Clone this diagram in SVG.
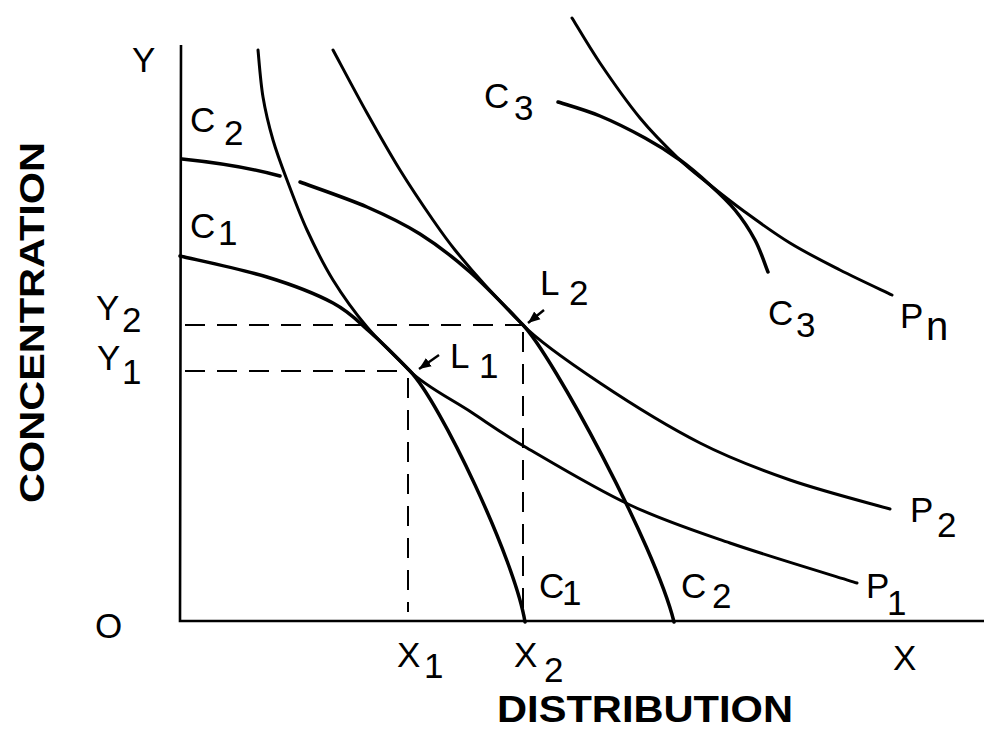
<svg xmlns="http://www.w3.org/2000/svg" width="984" height="730" viewBox="0 0 984 730">
<style>
.lbl{font-family:"Liberation Sans",Arial,Helvetica,sans-serif;font-size:35px;fill:#000}
.ttl{font-family:"Liberation Sans",Arial,Helvetica,sans-serif;font-weight:bold;fill:#000}
.pc{fill:none;stroke:#000;stroke-width:3;stroke-linecap:round}
.cc{fill:none;stroke:#000;stroke-width:3.5;stroke-linecap:round}
.ax{fill:none;stroke:#000;stroke-width:2.6}
.dash{fill:none;stroke:#000;stroke-width:2;stroke-dasharray:20 12}
.arr{fill:none;stroke:#000;stroke-width:2.4}
</style>
<defs>
<marker id="ah" markerUnits="userSpaceOnUse" markerWidth="14" markerHeight="12" refX="12" refY="6" orient="auto">
<path d="M0,1 L12,6 L0,11 Z" fill="#000"/>
</marker>
</defs>
<rect width="984" height="730" fill="#fff"/>

<g id="axes">
<path class="ax" d="M181,45 L180,621 L984,621"/>
</g>

<g id="connectors">
<path class="dash" d="M185,325 L523,325"/>
<path class="dash" d="M185,371 L410,371"/>
<path class="dash" d="M408,378 L408,612"/>
<path class="dash" d="M523,332 L523,612"/>
<path class="arr" d="M439,355 L419,369" marker-end="url(#ah)"/>
<path class="arr" d="M544,310 L528,323" marker-end="url(#ah)"/>
</g>

<g id="P1">
<path class="pc" d="M258,50 C258.8,57.8 260.5,82 263,97 C265.5,112 269,126.2 273,140 C277,153.8 281.3,165 287,180 C292.7,195 299.3,213.3 307,230 C314.7,246.7 323,263.8 333,280 C343,296.2 354.2,311.8 367,327 C379.8,342.2 400.3,360.9 410,371 C423.8,385.4 451.5,399.2 471,412 C490.5,424.8 500.5,432.5 527,448 C553.5,463.5 596.2,489.2 630,505 C663.8,520.8 692.2,530 730,543 C767.8,556 835.8,576.3 857,583"/>
</g>

<g id="C1">
<path class="cc" d="M180,256 C194.5,259.5 241.5,269.2 267,277 C292.5,284.8 315.8,293.8 333,303 C350.2,312.2 357.2,320.7 370,332 C382.8,343.3 400.3,360.9 410,371 C440,402 515,560 525,622"/>
</g>

<g id="C2">
<path class="cc" d="M182,159 Q240,165 280,176"/>
<path class="cc" d="M300,182 C311.2,186.2 347,198.3 367,207 C387,215.7 402.8,223.2 420,234 C437.2,244.8 452.8,256.8 470,272 C487.2,287.2 513.3,314.9 523,325 C552,355 655,545 674,622"/>
</g>

<g id="P2">
<path class="pc" d="M333,50 C338.7,60.5 355.8,93 367,113 C378.2,133 389,152.2 400,170 C411,187.8 423.8,206.7 433,220 C442.2,233.3 446.3,239.2 455,250 C463.7,260.8 473.7,272.5 485,285 C496.3,297.5 513.3,314.9 523,325 C536.8,339.4 570.5,363.3 600,383 C629.5,402.7 668.3,426.8 700,443 C731.7,459.2 758.3,469 790,480 C821.7,491 873.3,504.2 890,509"/>
</g>

<g id="Pn">
<path class="pc" d="M572,18 C576.7,25.5 588.7,46.3 600,63 C611.3,79.7 626.7,101.8 640,118 C653.3,134.2 668.3,148.8 680,160 C691.7,171.2 699.2,176.3 710,185 C720.8,193.7 731.7,202.3 745,212 C758.3,221.7 774.2,233.3 790,243 C805.8,252.7 823,261.3 840,270 C857,278.7 883.3,290.8 892,295"/>
</g>

<g id="C3">
<path class="cc" d="M558,102 C565,104.3 585.5,110 600,116 C614.5,122 631.7,130.7 645,138 C658.3,145.3 669.2,152.2 680,160 C690.8,167.8 700.8,176.7 710,185 C719.2,193.3 727.5,200.8 735,210 C742.5,219.2 749.5,229.7 755,240 C760.5,250.3 765.8,266.7 768,272"/>
</g>

<g id="labels">
<text class="lbl" x="132" y="72">Y</text>
<text class="lbl" x="95" y="638">O</text>
<text class="lbl" x="96" y="320">Y</text><text class="lbl" x="122" y="332">2</text>
<text class="lbl" x="97" y="370">Y</text><text class="lbl" x="122" y="384">1</text>
<text class="lbl" x="190" y="132">C</text><text class="lbl" x="224" y="145">2</text>
<text class="lbl" x="190" y="238">C</text><text class="lbl" x="218" y="245">1</text>
<text class="lbl" x="540" y="295">L</text><text class="lbl" x="569" y="305">2</text>
<text class="lbl" x="450" y="368">L</text><text class="lbl" x="479" y="378">1</text>
<text class="lbl" x="484" y="108">C</text><text class="lbl" x="514" y="120">3</text>
<text class="lbl" x="768" y="325">C</text><text class="lbl" x="796" y="337">3</text>
<text class="lbl" x="900" y="328">P</text><text class="lbl" x="926" y="340" style="font-size:40px">n</text>
<text class="lbl" x="910" y="522">P</text><text class="lbl" x="937" y="537">2</text>
<text class="lbl" x="866" y="598">P</text><text class="lbl" x="887" y="615">1</text>
<text class="lbl" x="539" y="598">C</text><text class="lbl" x="562" y="605">1</text>
<text class="lbl" x="681" y="598">C</text><text class="lbl" x="712" y="608">2</text>
<text class="lbl" x="397" y="667">X</text><text class="lbl" x="424" y="678">1</text>
<text class="lbl" x="514" y="667">X</text><text class="lbl" x="544" y="682">2</text>
<text class="lbl" x="893" y="670">X</text>
<text class="ttl" x="497" y="722" style="font-size:37px" textLength="296" lengthAdjust="spacingAndGlyphs">DISTRIBUTION</text>
<text class="ttl" x="0" y="0" style="font-size:35px" textLength="361" lengthAdjust="spacingAndGlyphs" transform="translate(44,503) rotate(-90)">CONCENTRATION</text>
</g>
</svg>
